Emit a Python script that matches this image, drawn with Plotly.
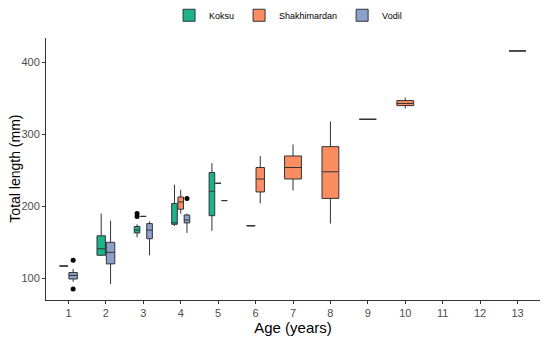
import plotly.graph_objects as go

# ---- data ----
ages = list(range(1, 14))
tick_labels = [str(a) for a in ages]

groups = ["Koksu", "Shakhimardan", "Vodil"]
colors = {"Koksu": "#1DB28B", "Shakhimardan": "#FC8D62", "Vodil": "#8DA0CB"}

koksu_age = [1, 2, 3, 4, 5, 6]
koksu_min = [117, 131, 157, 173, 166, 173]
koksu_q1 = [117, 132, 163, 175, 187, 173]
koksu_med = [117, 141, 167, 177, 221, 173]
koksu_q3 = [117, 159, 172, 204, 247, 173]
koksu_max = [117, 190, 175, 230, 260, 173]
koksu_out_age = [3, 3]
koksu_out = [186, 190]

shakh_age = [3, 4, 5, 6, 7, 8, 9, 10, 13]
shakh_min = [186, 190, 232, 204, 222, 176, 321, 336, 416]
shakh_q1 = [186, 196, 232, 220, 238, 211, 321, 340, 416]
shakh_med = [186, 206, 232, 238, 254, 248, 321, 343, 416]
shakh_q3 = [186, 213, 232, 254, 270, 283, 321, 347, 416]
shakh_max = [186, 223, 232, 270, 286, 318, 321, 351, 416]
shakh_out_age = []
shakh_out = []

vodil_age = [1, 2, 3, 4, 5]
vodil_min = [95, 92, 132, 163, 208]
vodil_q1 = [99, 120, 155, 177, 208]
vodil_med = [104, 136, 167, 181, 208]
vodil_q3 = [108, 150, 176, 188, 208]
vodil_max = [113, 180, 179, 190, 208]
vodil_out_age = [1, 1, 4]
vodil_out = [85, 125, 211]

data = {
    "Koksu": (koksu_age, koksu_min, koksu_q1, koksu_med, koksu_q3, koksu_max, koksu_out_age, koksu_out),
    "Shakhimardan": (shakh_age, shakh_min, shakh_q1, shakh_med, shakh_q3, shakh_max, shakh_out_age, shakh_out),
    "Vodil": (vodil_age, vodil_min, vodil_q1, vodil_med, vodil_q3, vodil_max, vodil_out_age, vodil_out),
}

# ---- dodge positions (ggplot dodge2-like, total width 0.5, padding 0.1) ----
present = {a: [g for g in groups if a in data[g][0]] for a in ages}


def pos(g, a):
    lst = present[a]
    n = len(lst)
    slot = 0.5 / n
    i = lst.index(g)
    return a - 0.25 + slot * (i + 0.5), slot * 0.9


fig = go.Figure()
for g in groups:
    age, mn, q1, med, q3, mx, oa, ov = data[g]
    for k, a in enumerate(age):
        xc, w = pos(g, a)
        fig.add_trace(go.Box(
            x=[xc], q1=[q1[k]], median=[med[k]], q3=[q3[k]],
            lowerfence=[mn[k]], upperfence=[mx[k]],
            width=w, whiskerwidth=0, boxpoints=False,
            fillcolor=colors[g], line=dict(color="#333333", width=1),
            name=g, legendgroup=g, showlegend=(k == 0), hoverinfo="skip",
        ))
    if oa:
        fig.add_trace(go.Scatter(
            x=[pos(g, a)[0] for a in oa], y=ov, mode="markers",
            marker=dict(color="black", size=5), showlegend=False,
            legendgroup=g, hoverinfo="skip",
        ))

axis_common = dict(
    showgrid=False, zeroline=False, showline=True, linecolor="#333333",
    linewidth=1, ticks="outside", ticklen=3, tickcolor="#333333",
    tickfont=dict(family="Liberation Sans, Arial", size=11, color="#4D4D4D"),
    automargin=False,
)

# the page body adds an 8px offset, so the figure is sized/margined to compensate
fig.update_layout(
    width=542, height=330,
    margin=dict(l=38, r=10, t=30, b=38),
    plot_bgcolor="white", paper_bgcolor="white",
    boxmode="overlay",
    font=dict(family="Liberation Sans, Arial", color="black"),
    legend=dict(orientation="h", x=0.49, xanchor="center",
                yref="container", y=0.978, yanchor="middle",
                font=dict(size=9), traceorder="normal", itemwidth=30,
                tracegroupgap=0),
    xaxis=dict(**axis_common, range=[0.4, 13.6], tickmode="array",
               tickvals=ages, ticktext=tick_labels,
               title=dict(text="Age (years)", font=dict(size=15), standoff=0)),
    yaxis=dict(**axis_common, range=[69.8, 434], tickvals=[100, 200, 300, 400]),
    annotations=[dict(text="Total length (mm)", textangle=-90, showarrow=False,
                      xref="paper", yref="paper", x=-0.0635, y=0.5,
                      xanchor="center", yanchor="middle", borderpad=0,
                      font=dict(size=14, color="black"))],
)

fig.write_html("out.html")
